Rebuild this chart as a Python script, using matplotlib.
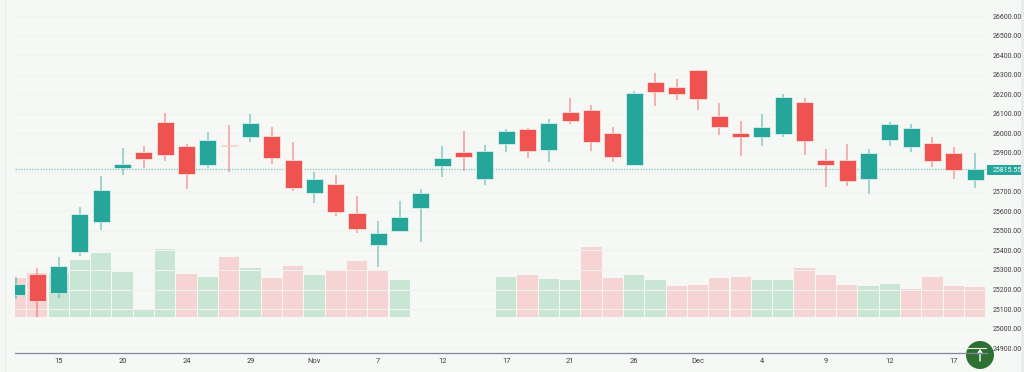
import matplotlib
matplotlib.use("Agg")
import matplotlib.pyplot as plt
from matplotlib.patches import Circle, Rectangle

plt.rcParams['font.family'] = ['Roboto', 'DejaVu Sans']

# candles, one per session, teal when close is above open
opens = [25174, 25278, 25180, 25392, 25544, 25820, 25902, 26056, 25933, 25839,
         25942, 25979, 25984, 25861, 25693, 25742, 25593, 25430, 25498, 25616,
         25831, 25906, 25764, 25947, 26020, 25916, 26109, 26121, 26000, 25839,
         26261, 26235, 26324, 26088, 26003, 25979, 25996, 26160, 25865, 25861,
         25768, 25967, 25928, 25950, 25901, 25761]
highs = [25266, 25309, 25365, 25624, 25781, 25925, 25935, 26102, 25943, 26005,
         26041, 26099, 26032, 25955, 25803, 25786, 25679, 25549, 25653, 25715,
         25933, 26010, 25940, 26022, 26029, 26071, 26179, 26143, 26030, 26215,
         26307, 26278, 26324, 26153, 26065, 26099, 26201, 26181, 25921, 25945,
         25921, 26056, 26046, 25981, 25928, 25901]
lows = [25150, 25059, 25157, 25373, 25505, 25785, 25820, 25858, 25713, 25824,
        25803, 25957, 25841, 25706, 25641, 25578, 25488, 25314, 25498, 25445,
        25778, 25805, 25737, 25902, 25875, 25853, 26049, 25909, 25853, 25839,
        26140, 26170, 26119, 25993, 25885, 25937, 25983, 25889, 25725, 25730,
        25689, 25933, 25902, 25829, 25766, 25722]
closes = [25228, 25141, 25322, 25585, 25710, 25841, 25867, 25889, 25792, 25966,
          25933, 26053, 25875, 25720, 25764, 25595, 25508, 25491, 25571, 25696,
          25875, 25877, 25909, 26013, 25908, 26053, 26065, 25955, 25880, 26205,
          26210, 26199, 26174, 26030, 25983, 26030, 26187, 25959, 25836, 25756,
          25897, 26046, 26025, 25856, 25814, 25815.55]

# volume bars, 0 where the session has none
volumes = [39, 44, 44, 57, 64, 45, 7, 68, 43, 40, 60, 49, 39, 51, 42, 46, 56, 46,
           37, 0, 0, 0, 0, 40, 42, 38, 37, 70, 39, 42, 37, 31, 32, 39, 40, 37, 37,
           49, 42, 32, 31, 33, 28, 40, 31, 30]
volume_up = [0, 0, 1, 1, 1, 1, 1, 1, 0, 1, 0, 1, 0, 0, 1, 0, 0, 0,
             1, 1, 1, 1, 1, 1, 0, 1, 1, 0, 0, 1, 1, 0, 0, 0, 0, 1, 1,
             0, 0, 0, 1, 1, 0, 0, 0, 0]

price_ticks = list(range(24900, 26700, 100))
date_positions = [2, 5, 8, 11, 14, 17, 20, 23, 26, 29, 32, 35, 38, 41, 44]
date_labels = ['15', '20', '24', '29', 'Nov', '7', '12', '17', '21', '26', 'Dec', '4', '9', '12', '17']
last_price = 25815.55

TEAL = '#26a69a'
RED = '#ef5350'
BG = '#f6f8f6'
W, H = 1024, 372

fig = plt.figure(figsize=(W / 100, H / 100), dpi=100, facecolor=BG)

# volume goes underneath, price axes on top of it
ax = fig.add_axes([15 / W, 1 - 353 / H, (987 - 15) / W, 353 / H])
ax2 = ax.twinx()
ax.set_zorder(ax2.get_zorder() + 1)
ax.patch.set_visible(False)
ax2.patch.set_facecolor(BG)

x = list(range(len(opens)))
vol_colors = ['#c9e6d5' if up else '#f5d4d3' for up in volume_up]
ax2.bar(x, volumes, width=0.95, color=vol_colors, edgecolor='none')
ax2.set_ylim(-36, 317)
ax2.set_yticks([])

# horizontal grid
ax.set_axisbelow(True)
ax.grid(axis='y', color='#f0f3f0', linewidth=0.8)

# wicks then bodies
for i in x:
    up = closes[i] >= opens[i]
    c = TEAL if up else RED
    ax.vlines(i, lows[i], highs[i], color=c, linewidth=1.2, alpha=0.5, zorder=2)
    ax.bar(i, abs(closes[i] - opens[i]), bottom=min(opens[i], closes[i]), width=0.8,
           color=c, edgecolor='white', linewidth=0.4, zorder=3)

# last price line and tag
ax.axhline(last_price, color=TEAL, linewidth=1, linestyle=(0, (1, 1)), alpha=0.5, zorder=2)

ax.set_xlim(-0.047, 45.56)
ax.set_ylim(24875, 26682)
ax.set_xticks(date_positions)
ax.set_xticklabels(date_labels)
ax.yaxis.tick_right()
ax.set_yticks(price_ticks)
# 25800 sits behind the last price tag
ax.set_yticklabels(['' if p == 25800 else '%.2f' % p for p in price_ticks])
ax.tick_params(axis='y', length=0, pad=4.3, labelsize=5.0, labelcolor='#3c3c3c')
ax.tick_params(axis='x', length=0, pad=3.5, labelsize=5.4, labelcolor='#3c3c3c')
for name in ['top', 'left', 'right']:
    ax.spines[name].set_visible(False)
    ax2.spines[name].set_visible(False)
ax2.spines['bottom'].set_visible(False)
ax.spines['bottom'].set_color('#85859b')
ax.spines['bottom'].set_linewidth(0.9)

# overlay in pixel coordinates for the tag, the round button and the window edges
over = fig.add_axes([0, 0, 1, 1])
over.set_xlim(0, W)
over.set_ylim(H, 0)
over.axis('off')
over.patch.set_visible(False)
over.add_patch(Rectangle((987, 165), 34, 10, facecolor=TEAL, edgecolor='none'))
over.text(993, 170.2, '%.2f' % last_price, color='white', fontsize=5.0, ha='left', va='center')
over.add_patch(Rectangle((1020.5, 0), 3.5, H, facecolor='#e9ebee', edgecolor='none'))
over.add_patch(Rectangle((4.5, 0), 1, H, facecolor='#e9ebee', edgecolor='none'))
over.add_patch(Circle((980, 355), 14, facecolor='#2e6f32', edgecolor='none'))
over.annotate('', xy=(980, 349), xytext=(980, 361),
              arrowprops=dict(arrowstyle='->,head_width=0.18,head_length=0.25', color='white',
                              lw=1, shrinkA=0, shrinkB=0))

fig.savefig('out.png', dpi=100, facecolor=BG)
